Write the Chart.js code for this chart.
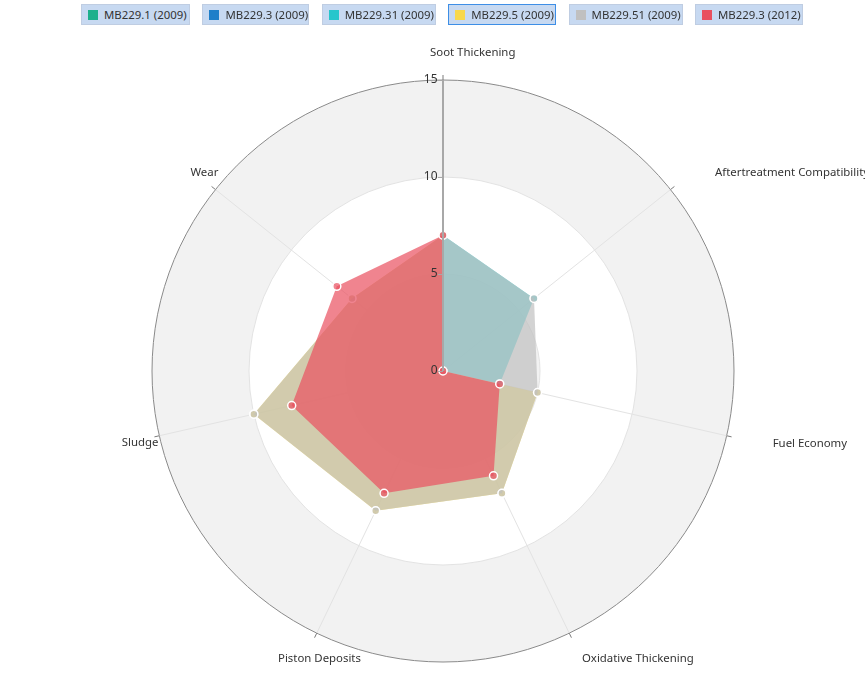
<!DOCTYPE html>
<html><head><meta charset="utf-8">
<script src="https://cdn.jsdelivr.net/npm/chart.js@4.4.1/dist/chart.umd.min.js"></script>
<style>
html,body{margin:0;padding:0;background:#fff;}
#wrap{position:relative;width:865px;height:697px;overflow:hidden;}
#legend{position:absolute;top:4px;left:81px;display:flex;gap:12.4px;font:11.4px "Segoe UI","Noto Sans",sans-serif;color:#333;}
.item{box-sizing:border-box;height:21px;display:flex;align-items:center;background:#c7d9f1;border:1px solid #bfcde2;padding:0 4px 0 6px;white-space:nowrap;overflow:hidden;}
.item.sel{border-color:#3d8ee6;}
.sw{width:10px;height:10px;margin-right:6px;flex:none;}
canvas{position:absolute;left:0;top:0;}
</style></head>
<body><div id="wrap"><canvas id="c" width="865" height="697"></canvas><div id="legend"></div></div>
<script>
const CATEGORIES = ['Soot Thickening','Aftertreatment Compatibility','Fuel Economy','Oxidative Thickening','Piston Deposits','Sludge','Wear'];
const SERIES_NAMES = ['MB229.1 (2009)','MB229.3 (2009)','MB229.31 (2009)','MB229.5 (2009)','MB229.51 (2009)','MB229.3 (2012)'];
const MB229_1_2009 = [];
const MB229_3_2009 = [];
const MB229_31_2009 = [7, 6, 3, 0, 0, 0, 0];
const MB229_5_2009 = [7, 0, 5, 7, 8, 10, 6];
const MB229_51_2009 = [7, 6, 5, 7, 8, 10, 6];
const MB229_3_2012 = [7, 0, 3, 6, 7, 8, 7];
const TICK_VALUES = [0, 5, 10, 15];

const SERIES_DATA = [MB229_1_2009, MB229_3_2009, MB229_31_2009, MB229_5_2009, MB229_51_2009, MB229_3_2012];
const SERIES_COLORS = ['#1db08c','#1f7fc9','#26c6cc','#f8d84a','#c0c0c0','#e9505f'];
const SERIES_ORDER = [5, 4, 3, 2, 1, 0];
const SELECTED_LEGEND = 3;
const LEGEND_WIDTHS = [109, 107, 114, 108, 114, 108];
const LABEL_OFFSETS = [[-13,-27],[44.5,-17],[46,8],[12.7,26],[-38.7,26],[-37.5,7],[-25,-16.6]];
const FONT = '"Segoe UI","Noto Sans",sans-serif';
const FONT_SIZE = 11.4;

function rgba(hex, a){
  const n = parseInt(hex.slice(1),16);
  return `rgba(${(n>>16)&255},${(n>>8)&255},${n&255},${a})`;
}

// HTML legend
const lg = document.getElementById('legend');
SERIES_NAMES.forEach((name,i)=>{
  const it = document.createElement('div');
  it.className = 'item' + (i===SELECTED_LEGEND?' sel':'');
  it.style.width = LEGEND_WIDTHS[i] + 'px';
  const sw = document.createElement('span');
  sw.className='sw'; sw.style.background = SERIES_COLORS[i];
  it.appendChild(sw);
  it.appendChild(document.createTextNode(name));
  lg.appendChild(it);
});

const bandsPlugin = {
  id:'bands',
  beforeDraw(chart){
    const s = chart.scales.r, ctx = chart.ctx;
    ctx.save();
    for(let i=TICK_VALUES.length-1;i>0;i--){
      const r = s.getDistanceFromCenterForValue(TICK_VALUES[i]);
      ctx.beginPath();
      ctx.arc(s.xCenter, s.yCenter, r, 0, Math.PI*2);
      ctx.fillStyle = (i%2===1) ? '#f2f2f2' : '#ffffff';
      ctx.fill();
    }
    ctx.restore();
  }
};

const overlayPlugin = {
  id:'overlay',
  afterDatasetsDraw(chart){
    const s = chart.scales.r, ctx = chart.ctx;
    const R = s.getDistanceFromCenterForValue(TICK_VALUES[TICK_VALUES.length-1]);
    const cx = s.xCenter, cy = s.yCenter;
    ctx.save();
    // outer tick marks
    ctx.strokeStyle = '#7a7a7a'; ctx.lineWidth = 1;
    CATEGORIES.forEach((c,i)=>{
      const p1 = s.getPointPosition(i, R), p2 = s.getPointPosition(i, R+5);
      ctx.beginPath(); ctx.moveTo(p1.x,p1.y); ctx.lineTo(p2.x,p2.y); ctx.stroke();
    });
    // value axis line
    const top = s.getPointPosition(0, R);
    ctx.strokeStyle = '#a8a8a8'; ctx.lineWidth = 2;
    ctx.beginPath(); ctx.moveTo(cx, cy); ctx.lineTo(top.x, top.y); ctx.stroke();
    // ticks + labels
    ctx.lineWidth = 1; ctx.strokeStyle = '#a8a8a8';
    ctx.fillStyle = '#333'; ctx.font = '12px ' + FONT;
    ctx.textAlign = 'right'; ctx.textBaseline = 'middle';
    TICK_VALUES.forEach(v=>{
      const p = s.getPointPosition(0, s.getDistanceFromCenterForValue(v));
      ctx.beginPath(); ctx.moveTo(p.x-5, p.y+0.5); ctx.lineTo(p.x, p.y+0.5); ctx.stroke();
      ctx.fillText(String(v), p.x-5.5, p.y);
    });
    // point labels
    ctx.font = FONT_SIZE + 'px ' + FONT;
    ctx.textAlign = 'left'; ctx.fillStyle = '#333';
    CATEGORIES.forEach((c,i)=>{
      const p = s.getPointPosition(i, R);
      ctx.fillText(c, p.x + LABEL_OFFSETS[i][0], p.y + LABEL_OFFSETS[i][1]);
    });
    ctx.restore();
  }
};

new Chart(document.getElementById('c'), {
  type:'radar',
  data:{
    labels: CATEGORIES,
    datasets: SERIES_NAMES.map((name,i)=>({
      label: name,
      data: SERIES_DATA[i],
      order: SERIES_ORDER[i],
      backgroundColor: rgba(SERIES_COLORS[i], 0.7),
      borderColor: rgba(SERIES_COLORS[i], 0.7),
      borderWidth: 0,
      fill: true,
      pointRadius: 4,
      pointBorderWidth: 1.5,
      pointBorderColor: '#ffffff',
      pointBackgroundColor: rgba(SERIES_COLORS[i], 0.7),
      pointHoverRadius: 4
    }))
  },
  options:{
    responsive:false,
    animation:false,
    events:[],
    layout:{padding:{top:80,bottom:35,left:152,right:131}},
    plugins:{legend:{display:false},tooltip:{enabled:false}},
    elements:{line:{tension:0}},
    scales:{
      r:{
        min: TICK_VALUES[0],
        max: TICK_VALUES[TICK_VALUES.length-1],
        ticks:{display:false, stepSize:5},
        pointLabels:{display:false},
        grid:{circular:true, color:(ctx)=> ctx.index===TICK_VALUES.length-1 ? '#8a8a8a' : '#e3e3e3', lineWidth:1},
        angleLines:{color:'#e3e3e3', lineWidth:1}
      }
    }
  },
  plugins:[bandsPlugin, overlayPlugin]
});
</script></body></html>
